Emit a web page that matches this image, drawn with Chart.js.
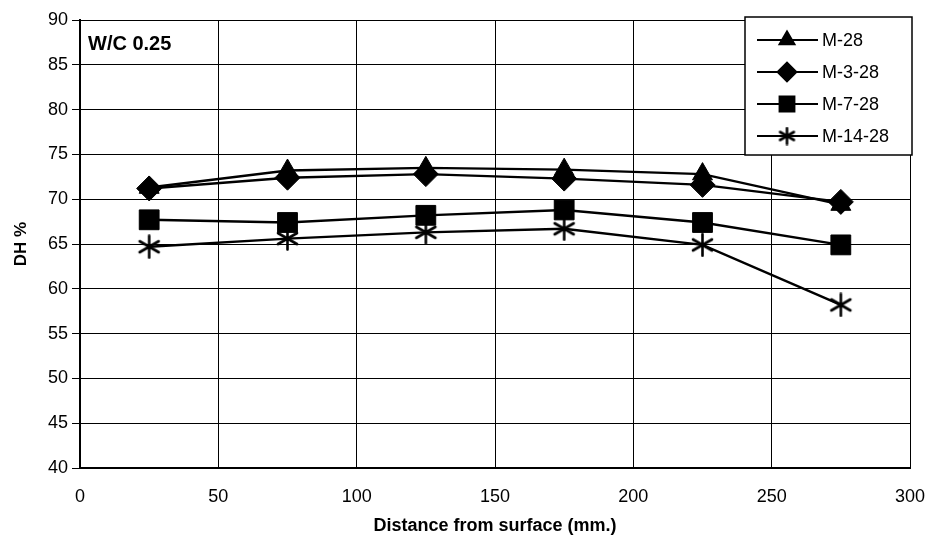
<!DOCTYPE html>
<html>
<head>
<meta charset="utf-8">
<script src="https://cdn.jsdelivr.net/npm/chart.js@4.4.0/dist/chart.umd.min.js"></script>
<style>
	html, body { margin: 0; padding: 0; background: #fff; }
	#chart { display: block; }
</style>
</head>
<body>
<canvas id="chart" width="934" height="541"></canvas>
<script>
const distances = [25, 75, 125, 175, 225, 275];
const seriesLabels = ['M-28', 'M-3-28', 'M-7-28', 'M-14-28'];
const m28 = [71.3, 73.2, 73.5, 73.3, 72.8, 69.4];
const m3_28 = [71.2, 72.4, 72.8, 72.3, 71.6, 69.7];
const m7_28 = [67.7, 67.4, 68.2, 68.8, 67.4, 64.9];
const m14_28 = [64.7, 65.6, 66.3, 66.7, 64.9, 58.2];
const yTicks = [40, 45, 50, 55, 60, 65, 70, 75, 80, 85, 90];
const xTicks = [0, 50, 100, 150, 200, 250, 300];

// asterisk marker: vertical bar plus an X (six arms)
function makeAsterisk(size) {
	const c = document.createElement('canvas');
	c.width = size; c.height = size;
	const g = c.getContext('2d');
	const h = size / 2, r = size / 2 - 1.5;
	g.strokeStyle = '#000';
	g.lineWidth = 2.6;
	g.lineCap = 'round';
	g.beginPath();
	g.moveTo(h, h - r); g.lineTo(h, h + r);
	const dx = r * Math.cos(Math.PI / 6), dy = r * Math.sin(Math.PI / 6);
	g.moveTo(h - dx, h - dy); g.lineTo(h + dx, h + dy);
	g.moveTo(h - dx, h + dy); g.lineTo(h + dx, h - dy);
	g.stroke();
	return c;
}
const asterisk = makeAsterisk(25);
const asteriskSmall = makeAsterisk(19);

const pointStyles = ['triangle', 'rectRot', 'rect', asterisk];
const legendStyles = ['triangle', 'rectRot', 'rect', asteriskSmall];
const pointRadii = [11.5, 12.5, 14, 12.5];
const values = [m28, m3_28, m7_28, m14_28];

const toPoints = (arr) => arr.map((v, i) => ({ x: distances[i], y: v }));

const datasets = values.map((arr, i) => ({
	label: seriesLabels[i],
	data: toPoints(arr),
	borderColor: '#000',
	backgroundColor: '#000',
	borderWidth: 2.4,
	pointStyle: pointStyles[i],
	pointRadius: pointRadii[i],
	pointBorderWidth: 1,
	pointBackgroundColor: '#000',
	pointBorderColor: '#000',
	tension: 0
}));

const font = "Arial, 'Liberation Sans', sans-serif";

const extras = {
	id: 'extras',
	afterDraw(chart) {
		const ctx = chart.ctx;
		const area = chart.chartArea;
		ctx.save();

		// W/C label
		ctx.fillStyle = '#000';
		ctx.font = 'bold 20px ' + font;
		ctx.textBaseline = 'middle';
		ctx.textAlign = 'left';
		ctx.fillText('W/C 0.25', area.left + 8, area.top + 24);

		// legend box
		const bx = area.right - 165, by = area.top - 3, bw = 167, bh = 138;
		ctx.fillStyle = '#fff';
		ctx.fillRect(bx, by, bw, bh);
		ctx.strokeStyle = '#000';
		ctx.lineWidth = 1.5;
		ctx.strokeRect(bx, by, bw, bh);

		chart.data.datasets.forEach((ds, i) => {
			const y = by + 23 + i * 32;
			ctx.strokeStyle = '#000';
			ctx.lineWidth = 2;
			ctx.beginPath();
			ctx.moveTo(bx + 12, y);
			ctx.lineTo(bx + 73, y);
			ctx.stroke();
			ctx.fillStyle = '#000';
			Chart.helpers.drawPoint(ctx, {
				pointStyle: legendStyles[i],
				radius: ds.pointRadius * 0.75,
				rotation: 0,
				borderWidth: 1
			}, bx + 42, y);
			ctx.fillStyle = '#000';
			ctx.font = '18px ' + font;
			ctx.textAlign = 'left';
			ctx.textBaseline = 'middle';
			ctx.fillText(ds.label, bx + 77, y + 1);
		});
		ctx.restore();
	}
};

new Chart(document.getElementById('chart').getContext('2d'), {
	type: 'line',
	data: { datasets },
	options: {
		responsive: false,
		animation: false,
		layout: { padding: { top: 20, right: 24, left: 0, bottom: 0 } },
		plugins: {
			legend: { display: false },
			tooltip: { enabled: false }
		},
		scales: {
			x: {
				type: 'linear',
				min: 0,
				max: 300,
				afterBuildTicks(scale) { scale.ticks = xTicks.map(v => ({ value: v })); },
				afterFit(scale) {
					scale.height = 73;
					scale.paddingLeft = 0;
					scale.paddingRight = 0;
				},
				grid: { color: '#000', lineWidth: 1, tickLength: 0, drawTicks: false },
				border: { color: '#000', width: 2 },
				ticks: { color: '#000', font: { family: font, size: 18 }, padding: 18, maxRotation: 0 },
				title: {
					display: true,
					text: 'Distance from surface (mm.)',
					color: '#000',
					font: { family: font, size: 18, weight: 'bold' },
					padding: { top: 0, bottom: 4 }
				}
			},
			y: {
				min: 40,
				max: 90,
				afterBuildTicks(scale) { scale.ticks = yTicks.map(v => ({ value: v })); },
				afterFit(scale) { scale.width = 80; },
				grid: { color: '#000', lineWidth: 1, tickLength: 8 },
				border: { color: '#000', width: 2 },
				ticks: { color: '#000', font: { family: font, size: 18 }, padding: 4 },
				title: {
					display: true,
					text: 'DH %',
					color: '#000',
					font: { family: font, size: 17, weight: 'bold' },
					padding: { top: 11, bottom: 0 }
				}
			}
		}
	},
	plugins: [extras]
});
</script>
</body>
</html>
